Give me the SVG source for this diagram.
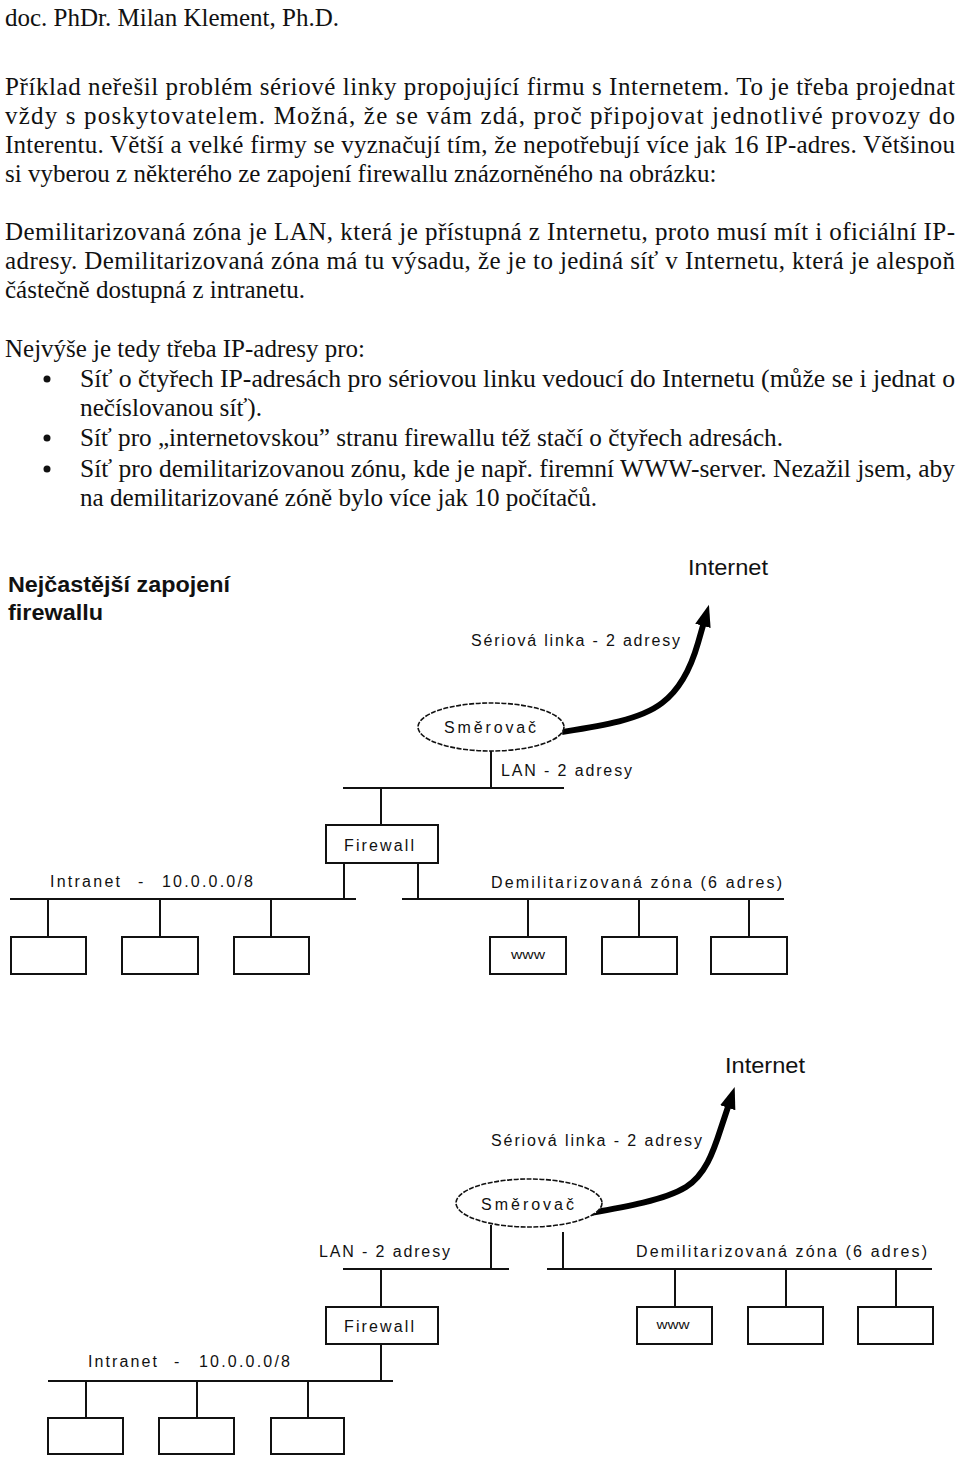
<svg xmlns="http://www.w3.org/2000/svg" width="960" height="1460" viewBox="0 0 960 1460">
<defs>
<style>
.body{font-family:"Liberation Serif","Times New Roman",serif;font-size:25px;fill:#111}
.cond{font-family:"Liberation Serif","Times New Roman",serif;font-size:25px;fill:#111}
.title{font-family:"Liberation Sans",Arial,sans-serif;font-size:22px;font-weight:bold;fill:#111}
.lbl{font-family:"Liberation Sans",Arial,sans-serif;font-size:16px;fill:#111}
.big{font-family:"Liberation Sans",Arial,sans-serif;font-size:22px;fill:#111}
.small{font-family:"Liberation Sans",Arial,sans-serif;font-size:12px;fill:#111}
.box{fill:#fff;stroke:#111;stroke-width:2}
.ell{fill:#fff;stroke:#111;stroke-width:1.6;stroke-dasharray:5 1.5}
.ln{stroke:#111;stroke-width:2;fill:none}
.arr{stroke:#000;stroke-width:6;fill:none;stroke-linecap:butt}
</style>
<marker id="ah" markerUnits="userSpaceOnUse" markerWidth="24" markerHeight="20" refX="4" refY="10" orient="auto">
<path d="M0,2 L22,10 L0,18 Z" fill="#000"/>
</marker>
</defs>
<rect width="960" height="1460" fill="#fff"/>

<g id="text">
<text class="body" x="5" y="26">doc. PhDr. Milan Klement, Ph.D.</text>
<text class="body" x="5" y="95" textLength="950" lengthAdjust="spacing">Příklad neřešil problém sériové linky propojující firmu s Internetem. To je třeba projednat</text>
<text class="body" x="5" y="124" textLength="950" lengthAdjust="spacing">vždy s poskytovatelem. Možná, že se vám zdá, proč připojovat jednotlivé provozy do</text>
<text class="body" x="5" y="153" textLength="950" lengthAdjust="spacing">Interentu. Větší a velké firmy se vyznačují tím, že nepotřebují více jak 16 IP-adres. Většinou</text>
<text class="body" x="5" y="182">si vyberou z některého ze zapojení firewallu znázorněného na obrázku:</text>
<text class="body" x="5" y="240" textLength="950" lengthAdjust="spacing">Demilitarizovaná zóna je LAN, která je přístupná z Internetu, proto musí mít i oficiální IP-</text>
<text class="body" x="5" y="269" textLength="950" lengthAdjust="spacing">adresy. Demilitarizovaná zóna má tu výsadu, že je to jediná síť v Internetu, která je alespoň</text>
<text class="body" x="5" y="298">částečně dostupná z intranetu.</text>
<text class="cond" x="5" y="357" textLength="360" lengthAdjust="spacingAndGlyphs">Nejvýše je tedy třeba IP-adresy pro:</text>
<circle cx="47" cy="379" r="3.5" fill="#111"/>
<text class="cond" x="80" y="387" textLength="875" lengthAdjust="spacingAndGlyphs">Síť o čtyřech IP-adresách pro sériovou linku vedoucí do Internetu (může se i jednat o</text>
<text class="cond" x="80" y="416" textLength="182" lengthAdjust="spacingAndGlyphs">nečíslovanou síť).</text>
<circle cx="47" cy="438" r="3.5" fill="#111"/>
<text class="cond" x="80" y="446" textLength="703" lengthAdjust="spacingAndGlyphs">Síť pro „internetovskou” stranu firewallu též stačí o čtyřech adresách.</text>
<circle cx="47" cy="469" r="3.5" fill="#111"/>
<text class="cond" x="80" y="477" textLength="875" lengthAdjust="spacingAndGlyphs">Síť pro demilitarizovanou zónu, kde je např. firemní WWW-server. Nezažil jsem, aby</text>
<text class="cond" x="80" y="506" textLength="517" lengthAdjust="spacingAndGlyphs">na demilitarizované zóně bylo více jak 10 počítačů.</text>
</g>

<!-- Diagram 1 -->
<g id="d1-title">
<text class="title" x="8" y="592" textLength="222" lengthAdjust="spacingAndGlyphs">Nejčastější zapojení</text>
<text class="title" x="8" y="620" textLength="95" lengthAdjust="spacingAndGlyphs">firewallu</text>
</g>
<g id="d1-connectors">
<path class="arr" d="M562,732 C600,726 640,720 662,703 C682,688 692,664 698,643 L704,622" marker-end="url(#ah)"/>
<line class="ln" x1="491" y1="751" x2="491" y2="788"/>
<line class="ln" x1="343" y1="788" x2="564" y2="788"/>
<line class="ln" x1="381" y1="788" x2="381" y2="825"/>
<line class="ln" x1="344" y1="863" x2="344" y2="899"/>
<line class="ln" x1="418" y1="863" x2="418" y2="899"/>
<line class="ln" x1="10" y1="899" x2="356" y2="899"/>
<line class="ln" x1="402" y1="899" x2="784" y2="899"/>
<line class="ln" x1="48" y1="899" x2="48" y2="937"/>
<line class="ln" x1="160" y1="899" x2="160" y2="937"/>
<line class="ln" x1="271" y1="899" x2="271" y2="937"/>
<line class="ln" x1="528" y1="899" x2="528" y2="937"/>
<line class="ln" x1="639" y1="899" x2="639" y2="937"/>
<line class="ln" x1="749" y1="899" x2="749" y2="937"/>
</g>
<g id="d1-internet"><text class="big" x="688" y="575" textLength="80" lengthAdjust="spacingAndGlyphs">Internet</text></g>
<g id="d1-serial"><text class="lbl" x="471" y="646" textLength="209" lengthAdjust="spacing">Sériová linka - 2 adresy</text></g>
<g id="d1-router">
<ellipse class="ell" cx="491" cy="727" rx="73" ry="24"/>
<text class="lbl" x="444" y="733" textLength="92" lengthAdjust="spacing">Směrovač</text>
</g>
<g id="d1-lan"><text class="lbl" x="501" y="776" textLength="131" lengthAdjust="spacing">LAN - 2 adresy</text></g>
<g id="d1-firewall">
<rect class="box" x="326" y="825" width="112" height="38"/>
<text class="lbl" x="344" y="851" textLength="70" lengthAdjust="spacing">Firewall</text>
</g>
<g id="d1-intranet-label">
<text class="lbl" y="887"><tspan x="50" textLength="70" lengthAdjust="spacing">Intranet</tspan><tspan x="138">-</tspan><tspan x="162" textLength="91" lengthAdjust="spacing">10.0.0.0/8</tspan></text>
</g>
<g id="d1-dmz-label"><text class="lbl" x="491" y="888" textLength="291" lengthAdjust="spacing">Demilitarizovaná zóna (6 adres)</text></g>
<g id="d1-pc1"><rect class="box" x="11" y="937" width="75" height="37"/></g>
<g id="d1-pc2"><rect class="box" x="122" y="937" width="76" height="37"/></g>
<g id="d1-pc3"><rect class="box" x="234" y="937" width="75" height="37"/></g>
<g id="d1-www"><rect class="box" x="490" y="937" width="76" height="37"/><text class="small" x="528" y="959" text-anchor="middle" textLength="34" lengthAdjust="spacingAndGlyphs">www</text></g>
<g id="d1-dmz2"><rect class="box" x="602" y="937" width="75" height="37"/></g>
<g id="d1-dmz3"><rect class="box" x="711" y="937" width="76" height="37"/></g>

<!-- Diagram 2 -->
<g id="d2-connectors">
<path class="arr" d="M590,1213 C625,1207 665,1200 686,1187 C705,1175 713,1153 721,1128 L729,1104" marker-end="url(#ah)"/>
<line class="ln" x1="491" y1="1225" x2="491" y2="1269"/>
<line class="ln" x1="563" y1="1232" x2="563" y2="1269"/>
<line class="ln" x1="343" y1="1269" x2="509" y2="1269"/>
<line class="ln" x1="547" y1="1269" x2="932" y2="1269"/>
<line class="ln" x1="381" y1="1269" x2="381" y2="1307"/>
<line class="ln" x1="381" y1="1344" x2="381" y2="1381"/>
<line class="ln" x1="48" y1="1381" x2="393" y2="1381"/>
<line class="ln" x1="86" y1="1381" x2="86" y2="1418"/>
<line class="ln" x1="197" y1="1381" x2="197" y2="1418"/>
<line class="ln" x1="308" y1="1381" x2="308" y2="1418"/>
<line class="ln" x1="675" y1="1269" x2="675" y2="1307"/>
<line class="ln" x1="786" y1="1269" x2="786" y2="1307"/>
<line class="ln" x1="896" y1="1269" x2="896" y2="1307"/>
</g>
<g id="d2-internet"><text class="big" x="725" y="1073" textLength="80" lengthAdjust="spacingAndGlyphs">Internet</text></g>
<g id="d2-serial"><text class="lbl" x="491" y="1146" textLength="211" lengthAdjust="spacing">Sériová linka - 2 adresy</text></g>
<g id="d2-router">
<ellipse class="ell" cx="529" cy="1203" rx="73" ry="24"/>
<text class="lbl" x="481" y="1210" textLength="93" lengthAdjust="spacing">Směrovač</text>
</g>
<g id="d2-lan"><text class="lbl" x="319" y="1257" textLength="131" lengthAdjust="spacing">LAN - 2 adresy</text></g>
<g id="d2-dmz-label"><text class="lbl" x="636" y="1257" textLength="291" lengthAdjust="spacing">Demilitarizovaná zóna (6 adres)</text></g>
<g id="d2-firewall">
<rect class="box" x="326" y="1307" width="112" height="37"/>
<text class="lbl" x="344" y="1332" textLength="70" lengthAdjust="spacing">Firewall</text>
</g>
<g id="d2-intranet-label">
<text class="lbl" y="1367"><tspan x="88" textLength="69" lengthAdjust="spacing">Intranet</tspan><tspan x="174">-</tspan><tspan x="199" textLength="91" lengthAdjust="spacing">10.0.0.0/8</tspan></text>
</g>
<g id="d2-pc1"><rect class="box" x="48" y="1418" width="75" height="36"/></g>
<g id="d2-pc2"><rect class="box" x="159" y="1418" width="75" height="36"/></g>
<g id="d2-pc3"><rect class="box" x="271" y="1418" width="73" height="36"/></g>
<g id="d2-www"><rect class="box" x="637" y="1307" width="75" height="37"/><text class="small" x="673" y="1329" text-anchor="middle" textLength="33" lengthAdjust="spacingAndGlyphs">www</text></g>
<g id="d2-dmz2"><rect class="box" x="748" y="1307" width="75" height="37"/></g>
<g id="d2-dmz3"><rect class="box" x="858" y="1307" width="75" height="37"/></g>
</svg>
